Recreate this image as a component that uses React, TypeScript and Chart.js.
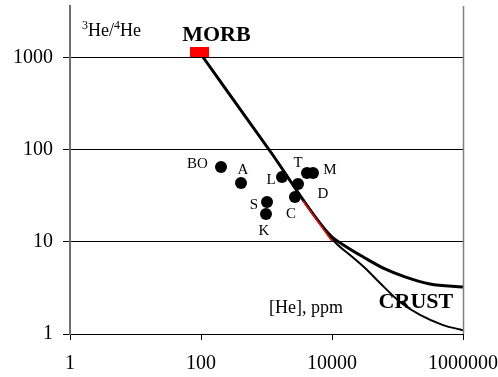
import React, { useEffect, useRef } from "react";
import { Chart, registerables } from "chart.js";

Chart.register(...registerables);

// Axis ticks
const xTicks = [1, 100, 10000, 1000000];
const yTicks = [1, 10, 100, 1000];

// Samples
const sampleNames = ["BO", "A", "L", "T", "M", "D", "C", "S", "K"];
const sampleHe = [202, 408, 1725, 4150, 5130, 3030, 2720, 1018, 982];
const sampleRatio = [65.3, 43.8, 50.9, 56.2, 56.2, 42.7, 30.8, 27.2, 20.2];
// Label anchor positions (data space)
const labelHe = [88.4, 438, 1172, 3030, 9310, 7290, 2370, 644, 916];
const labelRatio = [63.7, 54.8, 42.7, 65.3, 54.8, 30.1, 18.2, 22.8, 11.9];

// Mixing curves
const thickHe = [107, 1131, 9310, 15800, 31900, 64400, 130000, 313000, 1000000];
const thickRatio = [1025, 97.5, 11.9, 9.05, 6.7, 5.09, 4.17, 3.49, 3.24];
const thinHe = [107, 1131, 11100, 18800, 31900, 54000, 109000, 221000, 495000, 1000000];
const thinRatio = [1025, 97.5, 10, 7.22, 5.21, 3.58, 2.23, 1.61, 1.25, 1.1];
const redHe = [3610, 10000];
const redRatio = [28.0, 10.2];

// MORB end-member
const morbHe = [94.9];
const morbRatio = [1162];

// Annotations
const morbLabel = { text: "MORB", he: 172, ratio: 1530 };
const crustLabel = { text: "CRUST", he: 191000, ratio: 1.92 };
const xTitle = { text: "[He], ppm", he: 4010, ratio: 1.69 };
const yTitle = { he: 1.52, ratio: 1735 };

const FONT = "'Liberation Serif', 'Times New Roman', serif";

const pts = (xs: number[], ys: number[]) => xs.map((x, i) => ({ x, y: ys[i] }));

const noPad = (s: any) => {
  s.paddingLeft = 0;
  s.paddingRight = 0;
  s.paddingTop = 0;
  s.paddingBottom = 0;
};

export default function App() {
  const ref = useRef<HTMLCanvasElement | null>(null);
  useEffect(() => {
    if (!ref.current) return;
    const morbMarker = document.createElement("canvas");
    morbMarker.width = 19;
    morbMarker.height = 10;
    const mctx = morbMarker.getContext("2d")!;
    mctx.fillStyle = "#ff0000";
    mctx.fillRect(0, 0, 19, 10);

    const textPlugin = {
      id: "textPlugin",
      afterDatasetsDraw(chart: any) {
        const ctx = chart.ctx;
        const xs = chart.scales.x;
        const ys = chart.scales.y;
        const ca = chart.chartArea;
        ctx.save();
        // right border
        ctx.strokeStyle = "#808080";
        ctx.lineWidth = 1.5;
        ctx.beginPath();
        ctx.moveTo(ca.right + 0.5, ca.top);
        ctx.lineTo(ca.right + 0.5, ca.bottom);
        ctx.stroke();

        ctx.fillStyle = "#000";
        ctx.textBaseline = "alphabetic";
        ctx.textAlign = "center";
        ctx.font = `15px ${FONT}`;
        sampleNames.forEach((n, i) => {
          ctx.fillText(n, xs.getPixelForValue(labelHe[i]), ys.getPixelForValue(labelRatio[i]));
        });
        ctx.font = `bold 22px ${FONT}`;
        ctx.fillText(morbLabel.text, xs.getPixelForValue(morbLabel.he), ys.getPixelForValue(morbLabel.ratio));
        ctx.fillText(crustLabel.text, xs.getPixelForValue(crustLabel.he), ys.getPixelForValue(crustLabel.ratio));
        ctx.font = `18px ${FONT}`;
        ctx.fillText(xTitle.text, xs.getPixelForValue(xTitle.he), ys.getPixelForValue(xTitle.ratio));

        // 3He/4He
        ctx.textAlign = "left";
        let px = xs.getPixelForValue(yTitle.he);
        const py = ys.getPixelForValue(yTitle.ratio);
        const parts: [string, boolean][] = [["3", true], ["He/", false], ["4", true], ["He", false]];
        parts.forEach(([t, sup]) => {
          ctx.font = sup ? `12px ${FONT}` : `18px ${FONT}`;
          ctx.fillText(t, px, sup ? py - 7 : py);
          px += ctx.measureText(t).width;
        });
        ctx.restore();
      },
    };

    const chart = new Chart(ref.current, {
      type: "scatter",
      data: {
        datasets: [
          {
            label: "samples",
            data: pts(sampleHe, sampleRatio),
            pointRadius: 6,
            pointBackgroundColor: "#000",
            pointBorderColor: "#000",
            pointBorderWidth: 0,
            showLine: false,
            order: 1,
          },
          {
            label: "MORB",
            data: pts(morbHe, morbRatio),
            pointStyle: morbMarker as any,
            pointRadius: 10,
            showLine: false,
            order: 0,
          },
          {
            label: "red",
            data: pts(redHe, redRatio),
            showLine: true,
            borderColor: "#ff0000",
            borderWidth: 1.5,
            pointRadius: 0,
            order: 1.5,
          },
          {
            label: "thick",
            data: pts(thickHe, thickRatio),
            showLine: true,
            borderColor: "#000",
            borderWidth: 3,
            pointRadius: 0,
            cubicInterpolationMode: "monotone",
            order: 2,
          },
          {
            label: "thin",
            data: pts(thinHe, thinRatio),
            showLine: true,
            borderColor: "#000",
            borderWidth: 2,
            pointRadius: 0,
            cubicInterpolationMode: "monotone",
            order: 3,
          },
        ],
      },
      options: {
        animation: false,
        responsive: false,
        events: [],
        layout: { autoPadding: false, padding: { top: 6, right: 35, left: 0, bottom: 0 } },
        plugins: { legend: { display: false }, tooltip: { enabled: false } },
        scales: {
          x: {
            type: "logarithmic",
            min: 1,
            max: 1000000,
            afterBuildTicks: (s: any) => {
              s.ticks = xTicks.map((v) => ({ value: v }));
            },
            afterFit: (s: any) => {
              s.height = 43;
              noPad(s);
            },
            ticks: {
              callback: (v: any) => String(v),
              font: { family: FONT, size: 20 },
              color: "#000",
              padding: 12,
              maxRotation: 0,
              autoSkip: false,
            },
            grid: { drawOnChartArea: false, drawTicks: true, tickLength: 6, color: "#000", lineWidth: 1 },
            border: { color: "#000", width: 1 },
          },
          y: {
            type: "logarithmic",
            min: 1,
            max: 3673,
            afterBuildTicks: (s: any) => {
              s.ticks = yTicks.map((v) => ({ value: v }));
            },
            afterFit: (s: any) => {
              s.width = 70;
              noPad(s);
            },
            ticks: {
              callback: (v: any) => String(v),
              font: { family: FONT, size: 20 },
              color: "#000",
              padding: 10,
              autoSkip: false,
            },
            grid: { drawTicks: true, tickLength: 7, color: "#000", lineWidth: 1 },
            border: { color: "#6e6e6e", width: 2 },
          },
        },
      },
      plugins: [textPlugin],
    } as any);
    return () => chart.destroy();
  }, []);

  return (
    <div style={{ position: "fixed", left: 0, top: 0, width: 498, height: 377, background: "#fff" }}>
      <canvas ref={ref} width={498} height={377} style={{ display: "block" }} />
    </div>
  );
}
